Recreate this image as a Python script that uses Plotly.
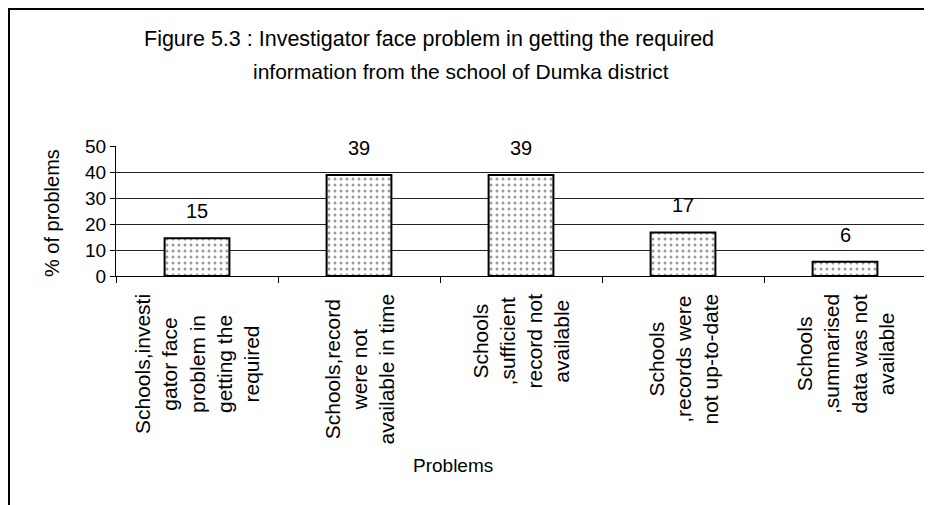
import plotly.graph_objects as go

categories = ["c1", "c2", "c3", "c4", "c5"]
category_labels = [
    "Schools,investi<br>gator face<br>problem in<br>getting the<br>required",
    "Schools,record<br>were not<br>available in time",
    "Schools<br>,sufficient<br>record not<br>available",
    "Schools<br>,records were<br>not up-to-date",
    "Schools<br>,summarised<br>data was not<br>available",
]
values = [14.6, 39.0, 39.0, 16.8, 5.5]
value_labels = ["15", "39", "39", "17", "6"]
y_ticks = [0, 10, 20, 30, 40, 50]

FONT = "Liberation Sans, Arial, sans-serif"

# page body has an 8px margin; plot area in screen px: x 116..926, y 146..276
PL, PW, PB, PH = 116, 810, 276, 130


def px(x):
    return (x - PL) / PW


def py(y):
    return (PB - y) / PH


fig = go.Figure()
fig.add_trace(go.Bar(
    x=categories, y=values, width=0.4,
    marker=dict(
        color="white",
        line=dict(color="black", width=2),
        pattern=dict(shape=".", fgcolor="#333333", bgcolor="white", size=6, solidity=0.2),
    ),
    hoverinfo="skip",
))

annotations = []
for c, v, t in zip(categories, values, value_labels):
    annotations.append(dict(x=c, y=v, xref="x", yref="y", text=t, showarrow=False,
                            yanchor="middle", yshift=27, font=dict(size=20, color="black", family=FONT)))
for c, t in zip(categories, category_labels):
    annotations.append(dict(x=c, y=0, xref="x", yref="y", text=t, showarrow=False,
                            textangle=-90, align="center", xanchor="center", yanchor="top",
                            yshift=-16, font=dict(size=21, color="black", family=FONT)))

annotations.append(dict(x=px(429), y=py(39), xref="paper", yref="paper",
                        text="Figure 5.3 : Investigator face problem in getting the required",
                        showarrow=False, xanchor="center", yanchor="middle",
                        font=dict(size=21.5, color="black", family=FONT)))
annotations.append(dict(x=px(461), y=py(71), xref="paper", yref="paper",
                        text="information from the school of Dumka district",
                        showarrow=False, xanchor="center", yanchor="middle",
                        font=dict(size=21, color="black", family=FONT)))
annotations.append(dict(x=px(453), y=py(465), xref="paper", yref="paper",
                        text="Problems", showarrow=False, xanchor="center", yanchor="middle",
                        font=dict(size=19, color="black", family=FONT)))
annotations.append(dict(x=px(52), y=py(213), xref="paper", yref="paper",
                        text="% of problems", showarrow=False, textangle=-90,
                        xanchor="center", yanchor="middle",
                        font=dict(size=20, color="black", family=FONT)))

shapes = [
    dict(type="line", xref="paper", yref="paper", x0=px(8), x1=px(940),
         y0=py(9), y1=py(9), line=dict(color="black", width=2)),
    dict(type="line", xref="paper", yref="paper", x0=px(9), x1=px(9),
         y0=py(9), y1=py(520), line=dict(color="black", width=2)),
]

fig.update_layout(
    width=932, height=505,
    margin=dict(l=PL - 8, r=932 - (PL + PW) + 8, t=146 - 8, b=505 - PB + 8),
    paper_bgcolor="white", plot_bgcolor="white",
    showlegend=False,
    annotations=annotations,
    shapes=shapes,
    font=dict(family=FONT, color="black"),
)
fig.update_xaxes(
    type="category", showticklabels=False, tickson="boundaries",
    ticks="outside", ticklen=6, tickcolor="black",
    showline=True, linecolor="black", linewidth=1, showgrid=False,
)
fig.update_yaxes(
    range=[0, 50.2], tickvals=y_ticks, ticktext=[str(v) for v in y_ticks],
    ticks="outside", ticklen=5, tickcolor="black",
    showline=True, linecolor="black", linewidth=1,
    showgrid=True, gridcolor="#222222", gridwidth=1, zeroline=False,
    tickfont=dict(size=19, family=FONT, color="black"),
)

fig.write_html("out.html")
